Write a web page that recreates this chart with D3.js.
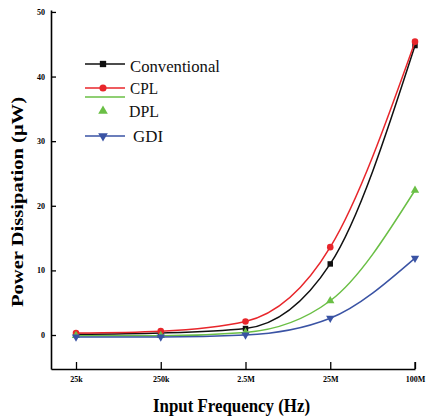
<!DOCTYPE html>
<html>
<head>
<meta charset="utf-8">
<script src="https://cdn.jsdelivr.net/npm/d3@7"></script>
<style>
body { margin:0; background:#fff; }
text { font-family: "Liberation Serif", "DejaVu Serif", serif; }
.tick text { font-weight: bold; font-size: 8px; }
</style>
</head>
<body>
<svg id="graph"></svg>
<script>
var frequencies = ["25k", "250k", "2.5M", "25M", "100M"];
var yTicks = [0, 10, 20, 30, 40, 50];
var conventional = [0.1, 0.3, 1.0, 11.0, 44.8];
var cpl = [0.3, 0.6, 2.1, 13.6, 45.4];
var dpl = [-0.1, -0.1, 0.4, 5.3, 22.4];
var gdi = [-0.3, -0.3, 0.0, 2.6, 11.9];
var seriesNames = ["Conventional", "CPL", "DPL", "GDI"];

var colors = {Conventional:"#111111", CPL:"#e8262b", DPL:"#6abf45", GDI:"#3a53a4"};
var symbols = {Conventional:d3.symbolSquare, CPL:d3.symbolCircle, DPL:d3.symbolTriangle, GDI:d3.symbolTriangle};

var series = [
    {name:"Conventional", values:conventional},
    {name:"CPL", values:cpl},
    {name:"DPL", values:dpl},
    {name:"GDI", values:gdi}
];

var screen = {width:432, height:419};
var svg = d3.select("#graph")
    .attr("width", screen.width)
    .attr("height", screen.height);

var xScale = d3.scaleLinear()
    .domain([-0.295, 4])
    .range([51, 415]);
var yScale = d3.scaleLinear()
    .domain([-5.26, 50.3])
    .range([369, 10]);

// axes with inward ticks
var xAxis = d3.axisBottom(xScale)
    .tickValues(d3.range(frequencies.length))
    .tickFormat(function(d){ return frequencies[d]; })
    .tickSizeInner(-7)
    .tickSizeOuter(0)
    .tickPadding(6);
var yAxis = d3.axisLeft(yScale)
    .tickValues(yTicks)
    .tickSizeInner(-5)
    .tickSizeOuter(0)
    .tickPadding(5);

var gx = svg.append("g")
    .attr("transform", "translate(0," + 369 + ")")
    .call(xAxis);
gx.select(".domain").attr("stroke-width", 1.6);
gx.selectAll(".tick line").attr("stroke-width", 1.3);
gx.selectAll(".tick text").attr("dy", "0.9em");
// right end tick
gx.append("line")
    .attr("x1", 415).attr("x2", 415)
    .attr("y1", 0).attr("y2", -7)
    .attr("stroke", "#000").attr("stroke-width", 1.3);

var gy = svg.append("g")
    .attr("transform", "translate(" + 51 + ",0)")
    .call(yAxis);
gy.select(".domain").attr("stroke-width", 1.6);
gy.selectAll(".tick line").attr("stroke-width", 1.3);
gy.selectAll(".tick text").attr("x", -6);

// curves
var lineGenerator = d3.line()
    .x(function(v, i){ return xScale(i); })
    .y(function(v){ return yScale(v); })
    .curve(d3.curveMonotoneX);

var lines = svg.append("g").selectAll("g")
    .data(series)
    .enter()
    .append("g");

lines.append("path")
    .attr("d", function(s){ return lineGenerator(s.values); })
    .attr("fill", "none")
    .attr("stroke", function(s){ return colors[s.name]; })
    .attr("stroke-width", 1.5);

lines.selectAll("path.marker")
    .data(function(s){ return s.values.map(function(v, i){ return {name:s.name, v:v, i:i}; }); })
    .enter()
    .append("path")
    .classed("marker", true)
    .attr("d", function(d){ return d3.symbol().type(symbols[d.name]).size(d.name == "CPL" ? 34 : 30)(); })
    .attr("transform", function(d){
        var r = d.name == "GDI" ? " rotate(180)" : "";
        return "translate(" + xScale(d.i) + "," + yScale(d.v) + ")" + r;
    })
    .attr("fill", function(d){ return colors[d.name]; });

// legend
var legendLineY = [64, 88, 97, 136];
var legendMarkY = [64, 88, 111, 136];
var legendTextY = [72, 94, 117, 142];
var legendTextX = [130, 130, 129, 133];
var legendTextW = [90, 28, 30, 30];

var legend = svg.append("g");
series.forEach(function(s, i) {
    legend.append("line")
        .attr("x1", 85).attr("x2", 125)
        .attr("y1", legendLineY[i]).attr("y2", legendLineY[i])
        .attr("stroke", colors[s.name])
        .attr("stroke-width", 1.5);
    legend.append("path")
        .attr("d", d3.symbol().type(symbols[s.name]).size(40)())
        .attr("transform", "translate(103," + legendMarkY[i] + ")" + (s.name == "GDI" ? " rotate(180)" : ""))
        .attr("fill", colors[s.name]);
    legend.append("text")
        .text(s.name)
        .attr("x", legendTextX[i])
        .attr("y", legendTextY[i])
        .attr("font-size", 17)
        .attr("textLength", legendTextW[i])
        .attr("lengthAdjust", "spacingAndGlyphs")
        .attr("fill", "#111");
});

// labels
svg.append("text")
    .text("Input Frequency  (Hz)")
    .attr("x", 153)
    .attr("y", 412)
    .attr("font-size", 19)
    .attr("font-weight", "bold")
    .attr("textLength", 157)
    .attr("lengthAdjust", "spacingAndGlyphs");

svg.append("g")
    .attr("transform", "translate(23,202)")
    .append("text")
    .text("Power Dissipation (\u03bcW)")
    .attr("text-anchor", "middle")
    .attr("transform", "rotate(-90)")
    .attr("font-size", 16)
    .attr("font-weight", "bold")
    .attr("textLength", 210)
    .attr("lengthAdjust", "spacingAndGlyphs");
</script>
</body>
</html>
